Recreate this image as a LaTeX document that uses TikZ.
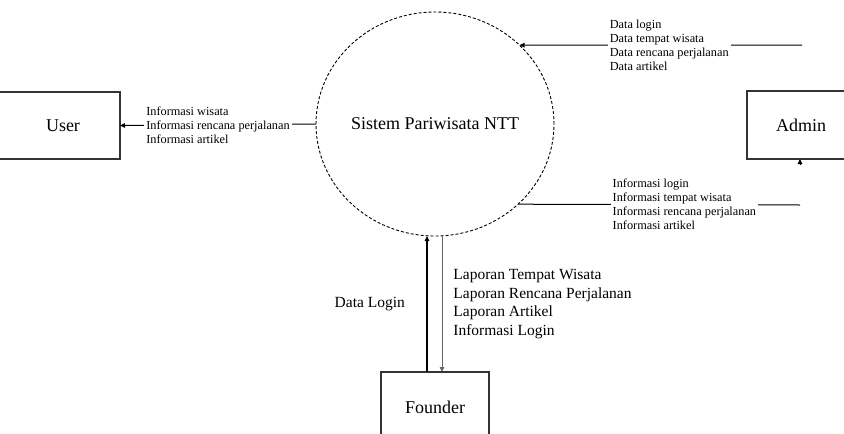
\documentclass[tikz,border=0pt]{standalone}
\usepackage{fontspec}
\setmainfont{Liberation Serif}
\usetikzlibrary{arrows.meta,shapes.geometric}

\begin{document}
\begin{tikzpicture}[x=1pt,y=-1pt,
 entity/.style={draw=black!80,line width=1.3pt,minimum width=108pt,
   minimum height=68pt,inner sep=0pt,outer sep=0pt,font=\fontsize{18}{20}\selectfont},
 process/.style={ellipse,draw,dash pattern=on 3pt off 2pt,line width=0.9pt,
   minimum width=238pt,minimum height=224pt,inner sep=0pt,outer sep=0pt,
   font=\fontsize{18}{20}\selectfont},
 flow/.style={-{Triangle[length=5pt,width=4.5pt]},line width=1pt},
 dataline/.style={line width=1pt},
 flowlabel/.style={fill=white,align=left,inner sep=2pt,font=\fontsize{12.3}{14}\selectfont},
 reportlabel/.style={align=left,inner sep=2pt,font=\fontsize{15.5}{18.5}\selectfont}
]
\clip (0,0) rectangle (844,434);
\node[process] (sys) at (435,124) {Sistem Pariwisata NTT};
\node[entity,minimum width=130pt,minimum height=67pt] (user) at (55,125.5) {\hspace*{16pt}User};
\node[entity] (admin) at (801,125) {Admin};
\node[entity,minimum height=70pt] (founder) at (435,407) {Founder};
\coordinate (datain) at (802,45);
\coordinate (infoout) at (800,205);
% user side
\draw[flow] (sys.west) -- node[flowlabel,midway]
 {Informasi wisata\\Informasi rencana perjalanan\\Informasi artikel} (user.east);
% admin side
\draw[flow] (datain) -- node[flowlabel,pos=.47]
 {Data login\\Data tempat wisata\\Data rencana perjalanan\\Data artikel} (sys.43);
\draw[dataline] (sys.-44) -- node[flowlabel,pos=.59]
 {Informasi login\\Informasi tempat wisata\\Informasi rencana perjalanan\\Informasi artikel} (infoout);
\draw[flow] ([yshift=-5pt]admin.south -| infoout) -- (admin.south -| infoout);
% founder side
\draw[flow,line width=1.6pt] ([xshift=-8pt]founder.north) -- node[left=18pt,font=\fontsize{15.5}{18.5}\selectfont] {Data Login} ([xshift=-8pt]sys.south);
\draw[flow,draw=black!60,line width=.8pt] ([xshift=7pt]sys.south) -- node[reportlabel,right=9pt]
 {Laporan Tempat Wisata\\Laporan Rencana Perjalanan\\Laporan Artikel\\Informasi Login} ([xshift=7pt]founder.north);
\end{tikzpicture}
\end{document}
